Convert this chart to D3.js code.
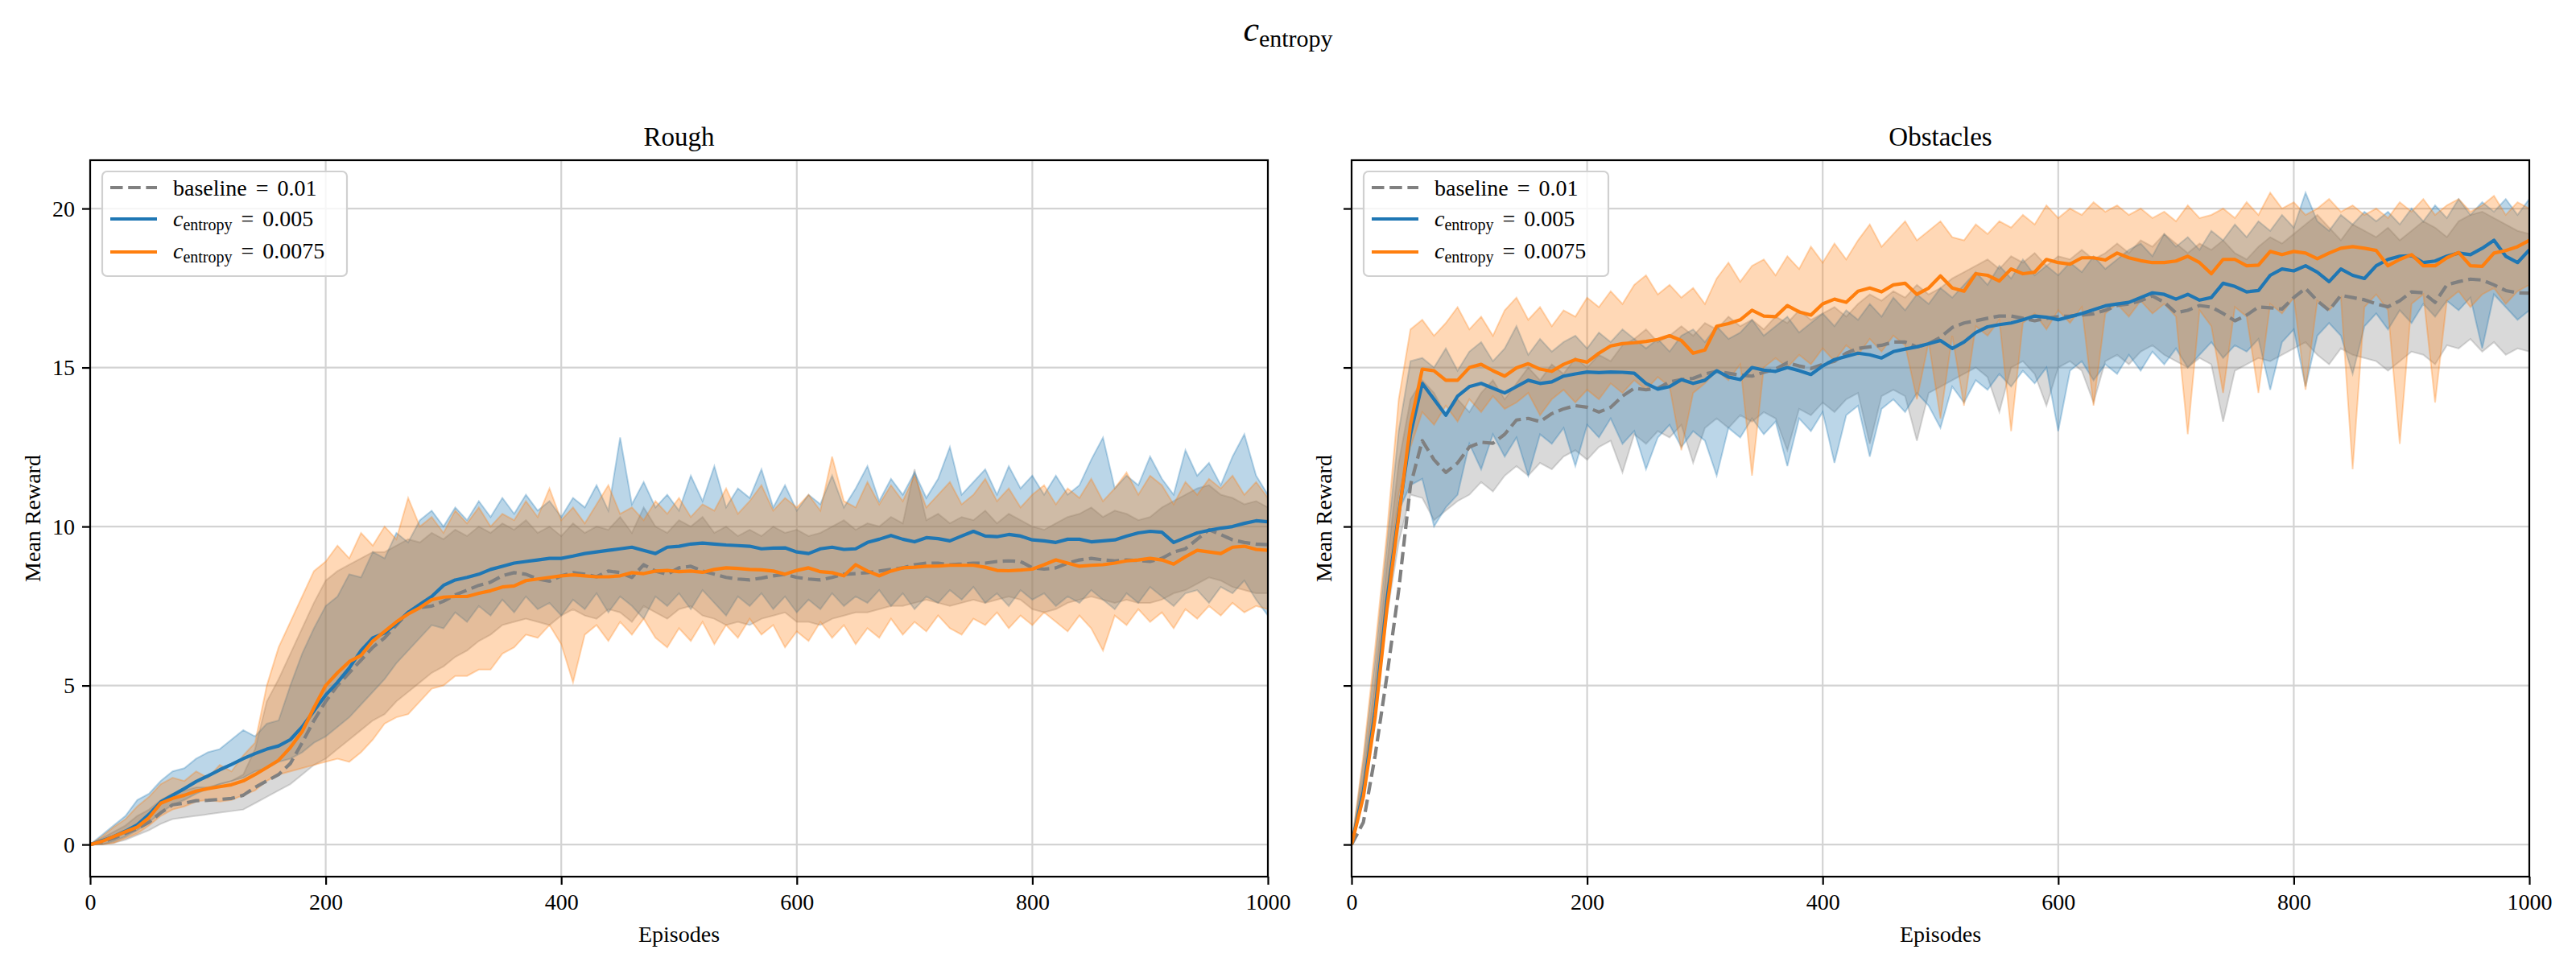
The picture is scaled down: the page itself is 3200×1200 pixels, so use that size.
<!DOCTYPE html>
<html><head><meta charset="utf-8">
<script src="https://cdn.jsdelivr.net/npm/d3@7"></script>
<style>
body{margin:0;background:#fff}
svg text{font-family:"Liberation Serif","DejaVu Serif",serif;fill:#000}
</style></head>
<body><svg id="chart" width="3200" height="1200"></svg>
<script>
// ---------------- DATA (episodes 0..1000, every 10) ----------------
const episodes = d3.range(0, 1001, 10);
const xTicks = [0, 200, 400, 600, 800, 1000];
const yTicks = [0, 5, 10, 15, 20];
const panelTitles = ["Rough", "Obstacles"];
const seriesLabels = ["baseline = 0.01", "0.005", "0.0075"];

// ---- Rough ----
const roughBaseMean = [
0,0.08,0.2,0.35,0.5,0.7,1.0,1.25,1.3,1.38,
1.39,1.42,1.45,1.55,1.8,2.0,2.2,2.55,3.2,3.9,
4.5,5.0,5.4,5.8,6.2,6.5,6.9,7.3,7.45,7.5,
7.65,7.85,8.0,8.15,8.25,8.45,8.55,8.5,8.35,8.28,
8.45,8.55,8.5,8.42,8.6,8.55,8.4,8.8,8.6,8.5,
8.7,8.75,8.6,8.5,8.4,8.35,8.32,8.38,8.45,8.5,
8.4,8.35,8.32,8.4,8.5,8.52,8.55,8.6,8.65,8.7,
8.8,8.85,8.85,8.8,8.82,8.85,8.85,8.9,8.92,8.9,
8.7,8.66,8.7,8.85,8.95,9.0,8.95,8.92,8.95,8.93,
8.9,9.0,9.2,9.3,9.6,9.9,9.75,9.58,9.5,9.45,
9.43];
const roughBaseLo = [
0,0.0,0.05,0.15,0.3,0.45,0.65,0.8,0.85,0.9,
0.95,1.0,1.05,1.1,1.3,1.5,1.7,1.9,2.2,2.5,
2.7,3.0,3.3,3.6,3.9,4.1,4.5,4.8,5.1,5.4,
5.6,5.9,6.1,6.4,6.6,6.9,7.0,7.1,7.0,6.9,
7.2,7.4,7.2,7.1,7.4,7.3,7.0,7.5,7.3,7.1,
7.4,7.5,7.2,7.1,6.9,7.0,6.9,7.1,7.2,7.3,
7.0,7.0,6.9,7.1,7.2,7.3,7.3,7.4,7.5,7.5,
7.6,7.7,7.6,7.5,7.6,7.7,7.6,7.7,7.8,7.7,
7.4,7.3,7.4,7.6,7.7,7.8,7.7,7.6,7.7,7.6,
7.6,7.7,7.9,8.0,8.2,8.4,8.3,8.1,8.0,7.9,
7.9];
const roughBaseHi = [
0,0.2,0.4,0.6,0.9,1.1,1.4,1.6,1.7,1.8,
1.8,1.9,2.0,2.2,3.0,4.5,5.2,6.0,6.8,7.6,
8.3,8.6,8.8,9.0,9.2,9.2,9.4,9.6,9.5,9.8,
9.6,9.9,9.7,10.0,9.8,10.1,9.9,10.2,9.8,10.0,
9.7,10.1,9.8,10.0,9.9,10.3,9.8,10.6,10.0,9.8,
10.2,10.0,10.3,9.8,10.0,9.7,9.9,9.7,10.0,9.8,
9.9,9.7,9.8,10.0,10.2,9.9,10.1,10.0,10.3,10.1,
11.8,10.2,10.4,10.1,10.3,10.2,10.5,10.1,10.4,10.2,
10.0,9.9,10.1,10.3,10.4,10.6,10.3,10.5,10.4,10.2,
10.3,10.6,10.8,11.0,11.2,11.3,11.0,10.9,10.7,10.8,
10.6];

const roughC005Mean = [
0,0.12,0.25,0.42,0.62,0.95,1.34,1.55,1.76,1.98,
2.16,2.35,2.52,2.7,2.86,3.0,3.1,3.3,3.7,4.2,
4.7,5.1,5.55,6.1,6.5,6.65,6.95,7.3,7.55,7.8,
8.15,8.32,8.4,8.5,8.65,8.75,8.85,8.9,8.95,9.0,
9.0,9.07,9.15,9.2,9.25,9.3,9.35,9.25,9.15,9.35,
9.38,9.45,9.48,9.45,9.42,9.4,9.38,9.3,9.32,9.33,
9.2,9.15,9.3,9.35,9.28,9.3,9.5,9.6,9.72,9.6,
9.52,9.65,9.62,9.55,9.7,9.85,9.7,9.68,9.75,9.7,
9.58,9.55,9.5,9.6,9.6,9.52,9.55,9.58,9.7,9.8,
9.85,9.82,9.5,9.65,9.8,9.88,9.95,10.0,10.1,10.18,
10.15];
const roughC005Lo = [
0,0.0,0.1,0.25,0.45,0.7,1.0,1.25,1.4,1.6,
1.75,1.9,2.0,2.1,2.3,2.4,2.6,2.7,2.9,3.2,
3.4,3.7,4.0,4.4,4.8,5.2,5.7,6.1,6.5,6.9,
6.8,7.3,7.0,7.5,7.2,7.7,7.3,7.8,7.4,7.6,
7.2,7.7,7.4,7.9,7.3,7.8,7.5,7.1,7.8,7.5,
7.9,7.4,8.0,7.6,7.2,7.8,7.5,7.9,7.4,7.8,
7.3,7.7,7.4,7.9,7.5,7.8,7.6,8.0,7.5,7.9,
7.4,7.8,7.6,8.0,7.7,8.1,7.6,7.9,7.5,8.0,
7.7,7.9,7.5,7.8,7.6,8.0,7.7,7.4,7.9,7.6,
8.1,7.8,7.5,7.9,8.0,7.6,8.1,7.9,8.3,7.7,
7.2];
const roughC005Hi = [
0,0.3,0.6,0.9,1.4,1.6,2.0,2.3,2.4,2.7,
2.9,3.0,3.3,3.6,3.4,3.8,3.9,5.0,6.0,6.8,
7.5,7.8,8.5,8.4,9.2,9.0,9.8,9.5,10.2,10.5,
10.0,10.6,10.2,10.8,10.3,10.9,10.4,11.0,10.5,10.8,
10.3,10.9,10.6,11.3,10.5,12.8,10.7,11.4,10.6,11.0,
10.5,11.6,10.8,11.9,10.6,11.2,10.9,11.8,10.6,11.3,
10.5,11.0,10.7,11.6,10.6,11.2,11.9,10.8,11.5,11.0,
11.7,10.9,11.5,12.5,11.0,11.4,11.8,11.0,11.9,11.2,
11.6,11.0,11.6,11.0,11.3,12.1,12.8,11.2,11.6,11.3,
12.2,11.5,11.0,12.4,11.6,12.0,11.3,12.2,12.9,11.6,
11.0];

const roughC0075Mean = [
0,0.1,0.25,0.4,0.55,0.85,1.3,1.45,1.55,1.68,
1.76,1.82,1.88,2.0,2.2,2.42,2.65,3.05,3.55,4.3,
5.0,5.4,5.75,5.95,6.4,6.7,7.0,7.25,7.45,7.7,
7.78,7.8,7.8,7.9,7.98,8.1,8.13,8.3,8.35,8.4,
8.45,8.48,8.45,8.42,8.42,8.45,8.55,8.52,8.6,8.62,
8.58,8.6,8.56,8.65,8.7,8.68,8.65,8.64,8.6,8.5,
8.62,8.7,8.58,8.55,8.45,8.8,8.6,8.45,8.6,8.7,
8.72,8.75,8.76,8.78,8.78,8.78,8.72,8.62,8.61,8.63,
8.66,8.8,8.95,8.85,8.75,8.78,8.8,8.85,8.92,8.95,
9.0,8.95,8.82,9.05,9.25,9.2,9.15,9.35,9.38,9.28,
9.25];
const roughC0075Lo = [
0,0.0,0.05,0.2,0.35,0.6,0.9,1.1,1.2,1.35,
1.4,1.35,1.4,1.55,1.7,2.0,2.2,2.3,2.4,2.5,
2.6,2.7,2.6,2.9,3.3,3.8,4.0,4.1,4.5,4.9,
5.0,5.3,5.3,5.5,5.5,6.0,6.2,6.6,6.5,6.9,
6.3,5.1,6.6,6.9,6.4,7.0,6.6,7.1,6.5,6.2,
6.8,6.4,7.0,6.3,6.9,6.5,7.1,6.6,6.9,6.2,
6.7,6.4,7.0,6.5,6.9,6.3,6.8,6.5,7.1,6.6,
7.0,6.7,7.2,6.8,6.6,7.1,6.9,7.3,6.8,7.2,
6.9,7.3,7.0,6.7,7.2,6.8,6.1,7.2,6.9,7.4,
7.0,7.3,6.8,7.4,7.1,7.5,7.2,7.6,7.3,7.5,
7.4];
const roughC0075Hi = [
0,0.25,0.55,0.8,1.2,1.5,1.9,2.1,2.0,2.3,
2.1,2.5,2.3,2.8,3.2,5.0,6.2,7.0,7.8,8.6,
8.9,9.4,9.0,9.8,9.4,10.0,9.6,10.9,10.0,10.3,
9.8,10.5,10.1,10.6,10.0,10.4,10.2,10.8,10.3,11.2,
10.2,10.6,10.1,10.7,11.3,10.4,10.6,10.2,10.8,10.4,
10.9,10.3,10.7,10.5,11.2,10.4,10.8,11.3,10.5,10.9,
10.6,11.0,10.5,12.2,10.8,10.6,11.4,10.7,11.3,10.8,
11.6,10.6,11.0,11.4,10.7,11.0,11.5,10.8,11.2,10.6,
11.0,11.3,10.7,11.2,10.9,11.5,10.8,11.2,11.7,11.0,
11.6,11.3,10.7,11.4,11.0,11.5,11.2,11.6,11.0,11.4,
10.9];

// ---- Obstacles ----
const obstBaseMean = [
0,0.7,2.8,5.3,8.0,11.3,12.7,12.1,11.7,12.0,
12.5,12.65,12.62,12.9,13.35,13.4,13.3,13.55,13.7,13.8,
13.75,13.6,13.75,14.1,14.35,14.3,14.35,14.55,14.62,14.66,
14.8,14.88,14.82,14.76,14.73,14.85,14.95,15.15,15.05,14.97,
15.1,15.2,15.45,15.6,15.65,15.7,15.8,15.8,15.65,15.75,
15.95,16.26,16.4,16.47,16.55,16.62,16.62,16.55,16.47,16.55,
16.6,16.62,16.65,16.69,16.8,16.95,17.0,17.1,17.25,17.05,
16.72,16.8,16.95,16.9,16.7,16.47,16.65,16.9,16.88,16.84,
17.2,17.49,17.1,16.8,17.27,17.2,17.13,17.0,16.91,17.1,
17.38,17.35,17.05,17.6,17.7,17.78,17.75,17.6,17.42,17.35,
17.34];
const obstBaseLo = [
0,1.4,4.0,7.2,9.5,11.0,10.9,10.2,10.5,10.8,
11.0,11.4,11.1,11.6,11.9,11.6,12.0,11.8,12.2,12.4,
12.1,12.5,12.7,11.7,12.9,12.6,13.0,12.8,13.2,12.0,
13.1,13.4,13.1,13.5,13.3,13.6,13.4,12.4,13.7,13.5,
13.9,13.6,14.0,14.2,12.6,14.1,14.3,14.1,12.7,14.2,
14.4,14.6,14.8,15.0,14.7,13.6,15.0,15.2,14.8,13.8,
15.0,15.2,14.9,13.9,15.2,15.4,15.1,15.5,15.7,15.4,
15.2,15.0,15.3,15.1,13.3,14.9,15.1,15.3,15.2,15.4,
15.6,15.8,15.4,15.1,15.6,15.4,15.3,15.2,14.9,15.2,
15.5,15.4,15.1,15.7,15.6,15.9,15.5,15.8,15.4,15.6,
15.5];
const obstBaseHi = [
0,2.2,5.2,8.8,12.0,14.0,14.6,14.2,13.5,14.0,
13.6,14.2,14.6,14.0,14.5,15.0,14.6,15.1,14.8,15.3,
15.0,15.4,15.2,15.7,15.9,16.2,15.8,16.0,16.3,16.0,
16.4,16.2,16.6,16.3,16.5,16.2,16.6,16.4,16.8,16.5,
16.7,16.9,16.6,17.0,17.3,17.1,17.4,17.2,17.6,17.3,
17.5,17.8,18.0,18.2,18.4,18.1,18.5,18.3,18.6,18.2,
18.5,18.4,18.7,18.4,18.6,18.9,18.6,19.0,18.8,19.2,
18.9,18.6,18.9,18.7,19.0,18.6,18.4,18.8,19.1,18.9,
19.2,19.5,19.8,19.4,19.0,19.5,19.3,19.1,19.4,19.0,
19.3,19.6,19.4,19.1,19.6,19.8,19.9,19.7,19.5,19.3,
19.2];

const obstC005Mean = [
0,1.67,4.2,7.68,10.4,12.9,14.5,14.0,13.5,14.1,
14.4,14.5,14.35,14.2,14.4,14.6,14.5,14.55,14.73,14.8,
14.86,14.84,14.86,14.85,14.82,14.5,14.32,14.4,14.62,14.5,
14.6,14.9,14.7,14.62,15.0,14.92,14.88,15.0,14.9,14.78,
15.05,15.25,15.35,15.45,15.4,15.3,15.5,15.58,15.65,15.75,
15.85,15.6,15.8,16.1,16.28,16.35,16.4,16.5,16.62,16.58,
16.5,16.6,16.7,16.82,16.94,17.0,17.05,17.2,17.35,17.3,
17.15,17.3,17.12,17.2,17.65,17.55,17.38,17.42,17.9,18.1,
18.04,18.2,18.0,17.7,18.1,17.9,17.8,18.2,18.4,18.5,
18.52,18.3,18.35,18.5,18.6,18.55,18.75,19.0,18.5,18.3,
18.7];
const obstC005Lo = [
0,1.8,4.5,7.8,10.5,11.3,11.5,10.0,10.6,11.0,
12.6,11.8,12.9,12.2,12.8,11.6,12.9,12.6,13.1,11.9,
13.2,12.8,13.4,12.6,13.0,11.8,12.8,13.2,12.5,13.0,
12.7,11.6,13.1,12.8,13.4,12.9,13.3,11.9,13.4,13.0,
13.6,12.0,13.5,13.8,12.2,13.7,14.0,13.6,14.2,13.8,
13.1,14.4,13.9,14.6,14.3,14.8,14.4,14.9,14.5,15.0,
13.0,14.9,15.2,14.6,15.1,14.8,15.4,14.9,15.5,15.1,
15.6,15.0,15.4,15.8,15.3,15.7,15.5,15.9,14.3,15.8,
16.2,14.4,16.0,16.4,16.0,14.8,16.3,16.7,16.2,16.8,
16.4,17.0,16.6,17.1,16.8,17.2,15.6,17.3,16.9,16.5,
16.8];
const obstC005Hi = [
0,2.6,5.8,9.4,13.0,15.2,15.3,15.0,15.6,14.9,
15.5,15.8,15.2,15.6,16.3,15.4,15.9,15.5,15.8,16.0,
15.6,16.1,15.8,16.2,15.9,15.6,15.9,15.5,16.0,16.2,
15.8,16.3,15.9,16.1,16.5,16.0,16.3,16.6,16.1,16.4,
16.7,16.3,16.8,16.5,17.0,16.6,17.2,16.8,17.3,17.0,
17.5,17.2,17.6,18.0,17.6,18.2,17.8,18.4,17.9,18.2,
17.9,18.3,18.0,18.5,18.1,18.4,18.7,18.9,18.5,19.2,
18.8,19.1,18.7,19.3,19.0,19.5,19.1,19.6,19.3,19.8,
19.4,20.5,19.6,19.3,19.8,19.5,19.9,19.6,19.9,19.5,
20.0,19.6,20.1,19.7,20.3,19.8,20.2,19.9,20.3,19.8,
20.3];

const obstC0075Mean = [
0,1.5,4.0,7.42,10.3,13.2,14.95,14.9,14.6,14.6,
15.0,15.1,14.9,14.73,14.99,15.12,14.95,14.88,15.1,15.25,
15.17,15.45,15.68,15.75,15.78,15.82,15.88,16.0,15.85,15.45,
15.55,16.3,16.38,16.5,16.8,16.62,16.6,16.95,16.75,16.65,
17.0,17.15,17.05,17.4,17.5,17.38,17.6,17.65,17.3,17.5,
17.88,17.5,17.4,17.95,17.9,17.72,18.1,17.95,18.0,18.4,
18.3,18.25,18.45,18.45,18.38,18.6,18.45,18.36,18.3,18.3,
18.35,18.5,18.3,17.95,18.4,18.4,18.2,18.22,18.65,18.55,
18.65,18.6,18.42,18.6,18.75,18.8,18.75,18.68,18.2,18.4,
18.55,18.2,18.2,18.45,18.62,18.2,18.18,18.6,18.68,18.8,
19.0];
const obstC0075Lo = [
0,1.9,4.8,8.0,11.0,12.5,13.6,13.2,13.8,13.3,
14.0,13.6,14.1,13.7,13.9,14.2,13.5,14.0,14.3,13.9,
14.3,14.0,14.5,14.2,14.6,14.3,14.7,14.4,12.4,14.2,
14.5,14.9,14.6,15.1,11.6,15.0,15.3,15.0,15.4,15.1,
15.6,15.2,15.7,15.4,15.9,15.5,16.0,15.7,14.0,15.8,
13.4,16.0,13.8,16.3,16.0,16.5,13.0,16.4,16.7,16.2,
16.8,16.4,16.9,13.8,16.7,17.0,16.6,17.1,16.7,17.0,
16.6,12.9,16.8,16.3,14.2,16.9,16.6,14.2,17.0,16.7,
17.2,14.3,17.1,16.8,17.2,11.8,16.9,17.3,16.8,12.6,
17.0,17.3,13.9,17.1,17.4,16.9,17.3,17.5,17.0,17.4,
17.6];
const obstC0075Hi = [
0,2.8,6.2,9.8,14.0,16.2,16.5,16.0,16.4,16.9,
16.2,16.6,16.0,16.8,17.2,16.5,16.9,16.3,16.8,16.6,
17.2,16.9,17.4,17.0,17.6,17.9,17.3,17.6,17.2,17.5,
17.0,17.8,18.3,17.7,18.2,18.4,17.9,18.5,18.1,18.8,
18.3,18.9,18.4,19.0,19.5,18.8,19.2,19.6,19.0,19.3,
19.6,19.1,19.0,19.5,19.2,19.6,19.4,19.8,19.5,20.1,
19.7,20.0,19.8,20.2,19.9,20.1,19.8,20.0,19.7,19.9,
19.6,20.1,19.7,19.8,20.0,19.7,20.2,19.8,20.5,20.0,
20.2,19.8,20.0,20.3,19.9,20.1,19.8,20.0,19.7,20.2,
19.9,20.3,19.8,20.1,20.3,19.9,20.1,20.4,19.8,20.2,
20.0];

// ---------------- LAYOUT ----------------
const svg = d3.select("#chart");
const plotTop = 199, plotBottom = 1089;
const panelX = [[112, 1575], [1679, 3142]];
const yScale = d3.scaleLinear().domain([-1.01, 21.52]).range([plotBottom, plotTop]);

const colors = {base: "#808080", c005: "#1f77b4", c0075: "#ff7f0e"};
const panelsData = [
  {base:[roughBaseMean,roughBaseLo,roughBaseHi], c005:[roughC005Mean,roughC005Lo,roughC005Hi], c0075:[roughC0075Mean,roughC0075Lo,roughC0075Hi]},
  {base:[obstBaseMean,obstBaseLo,obstBaseHi], c005:[obstC005Mean,obstC005Lo,obstC005Hi], c0075:[obstC0075Mean,obstC0075Lo,obstC0075Hi]}
];
const order = ["base", "c005", "c0075"];

// suptitle
const sup = svg.append("text").attr("x", 1600).attr("y", 51).attr("text-anchor", "middle");
sup.append("tspan").attr("font-style", "italic").attr("font-size", 44).text("c");
sup.append("tspan").attr("font-size", 30).attr("dy", 7).text("entropy");

panelsData.forEach((pd, pi) => {
  const [x0, x1] = panelX[pi];
  const xScale = d3.scaleLinear().domain([0, 1000]).range([x0, x1]);
  const g = svg.append("g");
  const clipId = "clip" + pi;
  svg.append("clipPath").attr("id", clipId).append("rect")
    .attr("x", x0).attr("y", plotTop).attr("width", x1 - x0).attr("height", plotBottom - plotTop);

  // grid
  g.selectAll(".gx").data(xTicks).join("line")
    .attr("x1", d => xScale(d)).attr("x2", d => xScale(d)).attr("y1", plotTop).attr("y2", plotBottom)
    .attr("stroke", "#d3d3d3").attr("stroke-width", 2.2);
  g.selectAll(".gy").data(yTicks).join("line")
    .attr("y1", d => yScale(d)).attr("y2", d => yScale(d)).attr("x1", x0).attr("x2", x1)
    .attr("stroke", "#d3d3d3").attr("stroke-width", 2.2);

  const plot = g.append("g").attr("clip-path", `url(#${clipId})`);
  const area = d3.area().x((d, i) => xScale(episodes[i])).y0(d => yScale(d[0])).y1(d => yScale(d[1]));
  const line = d3.line().x((d, i) => xScale(episodes[i])).y(d => yScale(d));

  order.forEach(k => {
    const [m, lo, hi] = pd[k];
    const band = lo.map((v, i) => [v, hi[i]]);
    plot.append("path").attr("d", area(band))
      .attr("fill", colors[k]).attr("fill-opacity", 0.3)
      .attr("stroke", colors[k]).attr("stroke-opacity", 0.3).attr("stroke-width", 2);
  });
  order.forEach(k => {
    const m = pd[k][0];
    plot.append("path").attr("d", line(m)).attr("fill", "none")
      .attr("stroke", colors[k]).attr("stroke-width", 4.2)
      .attr("stroke-linejoin", "round")
      .attr("stroke-dasharray", k === "base" ? "15.5,6.7" : null);
  });

  // axes
  const xAxis = d3.axisBottom(xScale).tickValues(xTicks).tickSize(10).tickPadding(11).tickFormat(d3.format("d"));
  const gx = svg.append("g").attr("transform", `translate(0,${plotBottom})`).call(xAxis);
  const yAxis = d3.axisLeft(yScale).tickValues(yTicks).tickSize(10).tickPadding(9)
    .tickFormat(pi === 0 ? d3.format("d") : () => "");
  const gy = svg.append("g").attr("transform", `translate(${x0},0)`).call(yAxis);
  [gx, gy].forEach(a => {
    a.select(".domain").remove();
    a.selectAll(".tick line").attr("stroke", "#000").attr("stroke-width", 2.2);
    a.selectAll(".tick text").attr("font-size", 28).attr("font-family", "Liberation Serif");
  });

  // spines
  svg.append("rect").attr("x", x0).attr("y", plotTop).attr("width", x1 - x0).attr("height", plotBottom - plotTop)
    .attr("fill", "none").attr("stroke", "#000").attr("stroke-width", 2.2);

  // titles
  svg.append("text").attr("x", (x0 + x1) / 2).attr("y", 181).attr("text-anchor", "middle")
    .attr("font-size", 33).text(panelTitles[pi]);
  svg.append("text").attr("x", (x0 + x1) / 2).attr("y", 1170).attr("text-anchor", "middle")
    .attr("font-size", 28).text("Episodes");
  const ylx = pi === 0 ? 50 : 1654;
  svg.append("text").attr("transform", `translate(${ylx},${(plotTop + plotBottom) / 2}) rotate(-90)`)
    .attr("text-anchor", "middle").attr("font-size", 28).text("Mean Reward");

  // legend
  const lx = x0 + 15, ly = 213;
  const lg = svg.append("g");
  lg.append("rect").attr("x", lx).attr("y", ly).attr("width", 304).attr("height", 130).attr("rx", 6)
    .attr("fill", "#fff").attr("fill-opacity", 0.8).attr("stroke", "#d0d0d0").attr("stroke-width", 2.2);
  const rowsY = [20, 59, 100];
  const baseY = [30, 68, 108];
  order.forEach((k, i) => {
    lg.append("line").attr("x1", lx + 10).attr("x2", lx + 68).attr("y1", ly + rowsY[i]).attr("y2", ly + rowsY[i])
      .attr("stroke", colors[k]).attr("stroke-width", 4.2)
      .attr("stroke-dasharray", k === "base" ? "15.5,6.7" : null);
    const t = lg.append("text").attr("x", lx + 88).attr("y", ly + baseY[i]).attr("font-size", 28);
    if (k === "base") {
      t.append("tspan").text("baseline");
      t.append("tspan").attr("dx", 11).text("=");
      t.append("tspan").attr("dx", 11).text("0.01");
    } else {
      t.append("tspan").attr("font-style", "italic").text("c");
      t.append("tspan").attr("font-size", 20).attr("dy", 5).text("entropy");
      t.append("tspan").attr("dy", -5).attr("dx", 11).text("=");
      t.append("tspan").attr("dx", 11).text(seriesLabels[i]);
    }
  });
});
</script>
</body></html>
